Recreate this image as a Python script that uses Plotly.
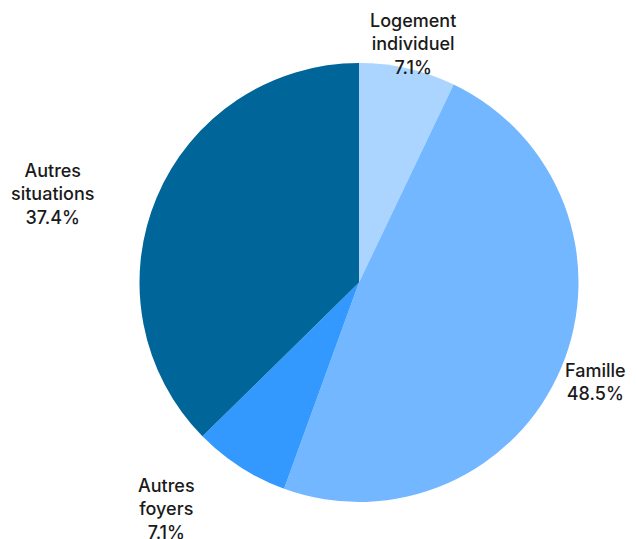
import math
import plotly.graph_objects as go

# Répartition par situation de logement (en %)
labels = ["Logement<br>individuel", "Famille", "Autres<br>foyers", "Autres<br>situations"]
values = [7.1, 48.5, 7.1, 37.4]
colors = ["#abd5ff", "#72b7ff", "#3399ff", "#006599"]

# label placement: extra radial distance (px) beyond the rim, then a horizontal nudge (px)
label_gap = [25, 37, 50, 10]
label_nudge = [0, 0, -47, -95]

W, H = 637, 539
M = dict(l=139, r=58, t=63, b=37)
plot_w = W - M["l"] - M["r"]
plot_h = H - M["t"] - M["b"]
radius_px = min(plot_w, plot_h) / 2

fig = go.Figure(
    go.Pie(
        labels=labels,
        values=values,
        sort=False,
        direction="clockwise",
        rotation=0,
        marker=dict(colors=colors, line=dict(width=0)),
        textinfo="none",
        showlegend=False,
        hoverinfo="skip",
    )
)

total = sum(values)
cum = 0.0
for lab, val, gap, nudge in zip(labels, values, label_gap, label_nudge):
    mid = (cum + val / 2) / total * 2 * math.pi
    cum += val
    r = radius_px + gap
    fig.add_annotation(
        x=0.5 + r * math.sin(mid) / plot_w,
        y=0.5 + r * math.cos(mid) / plot_h,
        xref="paper",
        yref="paper",
        text=f"{lab}<br>{val:.1f}%",
        showarrow=False,
        xanchor="center",
        yanchor="middle",
        xshift=nudge,
        align="center",
        font=dict(family="Inter", size=18, color="#1a1a1a", weight=500),
    )

fig.update_layout(
    width=W,
    height=H,
    margin=M,
    paper_bgcolor="white",
    plot_bgcolor="white",
)

fig.write_html("out.html")
